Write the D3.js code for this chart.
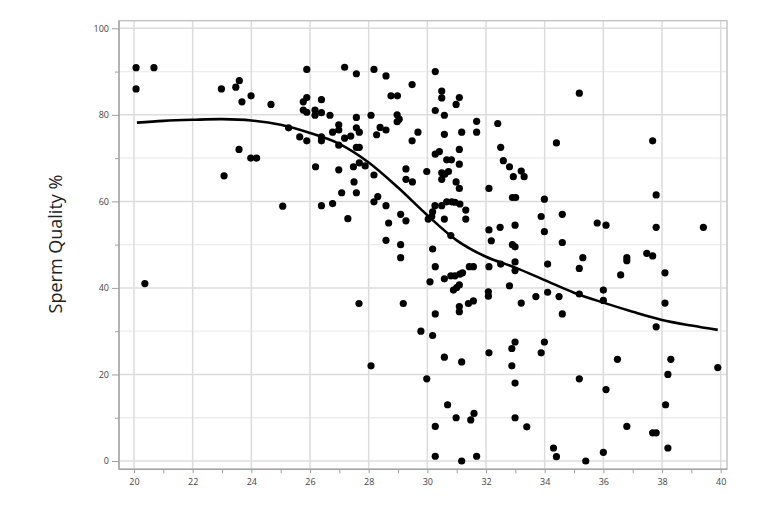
<!DOCTYPE html>
<html>
<head>
<meta charset="utf-8">
<script src="https://cdn.jsdelivr.net/npm/d3@7/dist/d3.min.js"></script>
<style>
  html, body { margin: 0; padding: 0; background: #fff; }
  svg { display: block; }
</style>
</head>
<body>
<svg id="chart" width="768" height="507"></svg>
<script>
// ---- data ----
const xTicks = [20, 22, 24, 26, 28, 30, 32, 34, 36, 38, 40];
const xMinorTicks = [21, 23, 25, 27, 29, 31, 33, 35, 37, 39];
const yTicks = [0, 20, 40, 60, 80, 100];
const yMinorTicks = [10, 30, 50, 70, 90];
const yLabel = "Sperm Quality %";

const points = [
  [20.07, 90.9], [20.07, 86.0], [20.68, 90.9], [20.37, 41.0],
  [22.98, 86.0], [23.47, 86.4], [23.59, 87.9], [23.68, 83.0], [23.99, 84.4], [24.67, 82.4],
  [23.58, 72.0], [23.98, 70.0], [24.18, 70.0], [23.07, 65.9],
  [25.27, 77.0], [25.65, 74.9], [25.07, 58.9],
  [25.89, 90.5], [27.18, 91.0], [27.58, 89.5], [28.18, 90.5], [28.59, 89.0], [29.48, 87.0], [30.27, 90.0],
  [30.49, 85.5], [30.49, 83.9], [31.09, 84.0], [30.98, 82.4],
  [28.76, 84.4], [28.98, 84.4],
  [25.89, 84.0], [25.77, 83.0], [26.39, 83.5],
  [25.77, 81.1], [25.89, 80.6], [26.17, 81.1], [26.39, 80.5], [26.17, 79.9], [26.68, 79.9],
  [27.58, 79.4], [28.08, 79.9], [28.97, 80.0], [29.04, 79.0], [28.97, 78.4],
  [30.27, 81.0], [30.58, 79.9], [31.68, 78.5], [31.68, 76.0], [32.4, 78.0],
  [25.89, 74.0], [26.39, 74.9], [26.39, 74.0],
  [26.98, 77.7], [26.98, 76.5], [26.77, 76.0],
  [27.18, 74.6], [27.39, 75.1], [27.58, 77.0], [27.68, 76.0],
  [26.98, 73.0], [27.58, 72.5], [27.68, 72.5],
  [28.39, 77.1], [28.59, 76.5], [28.27, 75.4],
  [29.68, 76.0], [29.48, 74.0], [30.58, 75.5], [31.17, 76.0], [31.09, 72.0],
  [30.27, 70.9], [30.41, 71.5], [30.66, 69.6], [30.82, 69.6], [31.09, 68.6],
  [32.5, 72.5],
  [26.19, 68.0], [26.98, 67.3], [27.48, 68.0], [27.68, 68.9], [27.88, 68.2], [28.18, 66.1],
  [29.27, 67.5], [29.98, 66.9],
  [29.27, 65.1], [29.49, 64.5],
  [30.49, 66.6], [30.6, 66.3], [30.72, 66.9], [30.49, 65.1],
  [30.98, 64.5], [31.09, 63.0], [32.1, 63.0],
  [27.5, 64.5], [27.08, 62.0], [27.58, 62.0], [28.18, 59.9], [28.31, 61.1],
  [26.39, 59.0], [26.77, 59.5], [28.59, 59.0],
  [27.29, 56.0], [29.09, 57.0], [29.27, 55.5], [28.68, 55.0],
  [28.59, 51.0], [29.09, 50.0], [29.09, 47.0],
  [30.03, 55.9], [30.15, 56.5], [30.18, 57.6], [30.26, 59.0], [30.49, 59.0], [30.66, 59.9],
  [30.83, 59.9], [30.94, 59.8], [31.11, 59.4], [31.31, 58.0], [31.31, 55.9], [30.58, 55.9],
  [30.8, 52.1],
  [32.1, 53.4], [32.18, 50.9], [32.48, 54.0],
  [30.18, 49.0], [30.27, 44.9], [30.09, 41.4],
  [30.58, 42.1], [30.8, 42.8], [30.94, 42.8], [31.11, 43.2], [31.2, 43.5],
  [30.89, 39.5], [31.0, 40.1], [31.09, 40.7],
  [31.43, 44.9], [31.57, 44.9], [32.1, 44.9],
  [32.08, 39.1], [32.08, 38.1],
  [31.4, 36.4], [31.57, 37.0],
  [31.09, 35.7], [31.09, 34.5],
  [27.67, 36.4], [29.18, 36.4], [30.27, 34.0],
  [29.78, 30.0], [30.18, 29.0],
  [30.58, 24.0], [31.17, 22.9], [32.1, 25.0], [28.08, 22.0], [29.98, 19.0], [30.69, 13.0],
  [30.98, 10.0], [31.59, 11.0], [31.48, 9.5], [30.27, 8.0], [30.27, 1.1], [31.17, 0.0], [31.68, 1.1],
  [35.18, 85.0], [34.4, 73.5], [37.68, 74.0],
  [32.59, 69.4], [32.8, 68.0], [33.2, 67.0], [32.93, 65.7], [33.3, 65.7],
  [32.9, 60.9], [33.01, 60.9], [33.99, 60.5], [37.8, 61.5],
  [33.88, 56.5], [34.6, 57.0], [33.99, 53.0], [32.99, 54.5],
  [32.9, 50.0], [32.99, 49.5], [34.6, 50.5],
  [35.79, 55.0], [36.09, 54.5], [37.8, 54.0], [39.41, 54.0],
  [32.5, 45.5], [32.99, 46.0], [32.99, 44.0], [34.1, 45.5], [35.3, 47.0], [35.18, 44.5],
  [36.8, 47.0], [36.8, 46.3], [37.48, 48.0], [37.68, 47.4], [36.59, 43.0], [38.1, 43.5],
  [32.8, 40.5], [33.2, 36.5], [33.7, 38.0], [34.1, 39.0], [34.49, 38.0], [34.6, 34.0], [35.18, 38.6],
  [36.0, 39.5], [36.0, 37.1], [38.1, 36.5], [37.8, 31.0],
  [32.99, 27.5], [32.88, 26.0], [33.99, 27.5], [33.88, 25.0], [32.88, 22.0], [32.99, 18.0],
  [32.99, 10.0], [33.39, 7.9],
  [34.3, 3.0], [34.4, 1.0], [35.4, 0.0], [36.0, 2.0], [35.18, 19.0], [36.09, 16.5], [36.48, 23.5], [36.8, 8.0],
  [37.68, 6.5], [37.8, 6.5], [38.12, 13.0], [38.2, 20.0], [38.3, 23.5], [38.2, 3.0], [39.9, 21.6]
];

const curveX = [20.1, 21, 22, 23, 24, 25, 26, 27, 28, 29, 30, 31, 32, 33, 34, 35, 36, 37, 38, 39, 39.9];
const curveY = [78.2, 78.6, 78.85, 79.0, 78.7, 77.7, 75.8, 73.3, 69.0, 63.2, 56.8, 51.0, 47.2, 44.7, 41.8, 38.9, 36.6, 34.5, 32.6, 31.3, 30.3];

// ---- layout ----
const frame = { left: 119, right: 727, top: 20.7, bottom: 469.3 };
const x = d3.scaleLinear().domain([20, 40]).range([134, 720.7]);
const y = d3.scaleLinear().domain([0, 100]).range([461, 28.3]);

const svg = d3.select("#chart");

// minor horizontal grid
svg.append("g").selectAll("line").data(yMinorTicks).join("line")
  .attr("x1", frame.left).attr("x2", frame.right)
  .attr("y1", d => y(d)).attr("y2", d => y(d))
  .attr("stroke", "#ececec").attr("stroke-width", 1.3);

// major grid
svg.append("g").selectAll("line").data(yTicks).join("line")
  .attr("x1", frame.left).attr("x2", frame.right)
  .attr("y1", d => y(d)).attr("y2", d => y(d))
  .attr("stroke", "#dcdcdc").attr("stroke-width", 1.5);
svg.append("g").selectAll("line").data(xTicks).join("line")
  .attr("y1", frame.top).attr("y2", frame.bottom)
  .attr("x1", d => x(d)).attr("x2", d => x(d))
  .attr("stroke", "#dcdcdc").attr("stroke-width", 1.5);

// frame
svg.append("rect")
  .attr("x", frame.left).attr("y", frame.top)
  .attr("width", frame.right - frame.left).attr("height", frame.bottom - frame.top)
  .attr("fill", "none").attr("stroke", "#c4c4c4").attr("stroke-width", 1.5);
svg.append("line").attr("x1", frame.left).attr("x2", frame.left)
  .attr("y1", frame.top).attr("y2", frame.bottom).attr("stroke", "#a8a8a8").attr("stroke-width", 1.5);
svg.append("line").attr("x1", frame.left).attr("x2", frame.right)
  .attr("y1", frame.bottom).attr("y2", frame.bottom).attr("stroke", "#a8a8a8").attr("stroke-width", 1.5);

// axes (ticks + labels)
const font = "'Open Sans', 'Noto Sans', sans-serif";
const yAxis = d3.axisLeft(y).tickValues(yTicks).tickSize(7).tickPadding(3).tickFormat(d3.format("d"));
const gy = svg.append("g").attr("transform", `translate(${frame.left},0)`).call(yAxis);
const yAxisMinor = d3.axisLeft(y).tickValues(yMinorTicks).tickSize(4).tickFormat("");
const gym = svg.append("g").attr("transform", `translate(${frame.left},0)`).call(yAxisMinor);

const xAxis = d3.axisBottom(x).tickValues(xTicks).tickSize(4).tickPadding(5).tickFormat(d3.format("d"));
const gx = svg.append("g").attr("transform", `translate(0,${frame.bottom})`).call(xAxis);
const xAxisMinor = d3.axisBottom(x).tickValues(xMinorTicks).tickSize(4).tickFormat("");
const gxm = svg.append("g").attr("transform", `translate(0,${frame.bottom})`).call(xAxisMinor);

[gy, gym, gx, gxm].forEach(g => {
  g.select(".domain").remove();
  g.selectAll(".tick line").attr("stroke", "#a0a0a0").attr("stroke-width", 1);
  g.selectAll(".tick text").attr("fill", "#444").style("font-family", font).style("font-size", "9px");
});

// y label
svg.append("text")
  .attr("transform", "translate(62,244) rotate(-90)")
  .attr("text-anchor", "middle")
  .style("font-family", font).style("font-size", "18px")
  .attr("fill", "#222")
  .text(yLabel);

// points
svg.append("g").selectAll("circle").data(points).join("circle")
  .attr("cx", d => x(d[0])).attr("cy", d => y(d[1]))
  .attr("r", 3.6).attr("fill", "#000");

// fitted curve
const curveData = curveX.map((v, i) => [v, curveY[i]]);
svg.append("path").datum(curveData)
  .attr("d", d3.line().x(d => x(d[0])).y(d => y(d[1])).curve(d3.curveCatmullRom.alpha(0.5)))
  .attr("fill", "none").attr("stroke", "#000").attr("stroke-width", 2.6);
</script>
</body>
</html>
